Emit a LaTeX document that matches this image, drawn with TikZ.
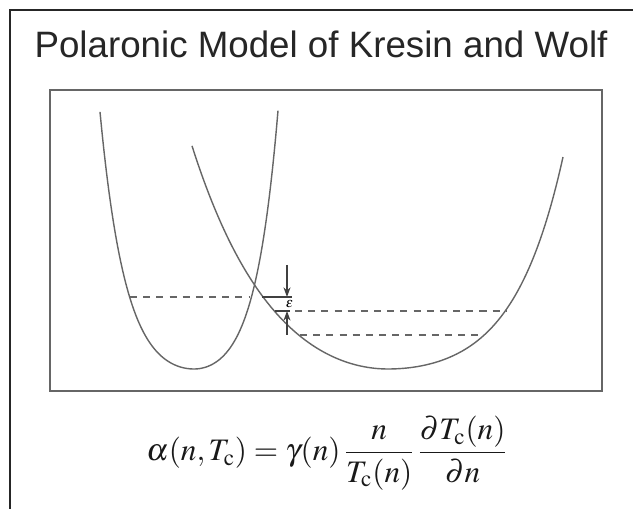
\documentclass[tikz,border=0pt]{standalone}
\usepackage{mathptmx}
\usepackage[no-math]{fontspec}
\newfontfamily\titlefont{Liberation Sans}
\usepackage{tikz}
\usetikzlibrary{arrows.meta, positioning}

\begin{document}
\begin{tikzpicture}[x=0.02cm, y=-0.02cm, >={Stealth[length=5.5pt, width=4pt]},
    curve/.style={draw=black!60, line width=0.8pt},
    level/.style={draw=black!60, line width=0.6pt, dash pattern=on 4pt off 3.5pt},
    mark line/.style={draw=black!75, line width=0.6pt}]

\clip (0,0) rectangle (633,509);
\fill[white] (0,0) rectangle (633,509);

% slide frame and plot box
\draw[black!85, line width=1.2pt] (10,520) -- (10,10) -- (650,10);
\draw[black!60, line width=1.1pt] (50,90) rectangle (602,391);

\node[anchor=base, text=black!85, font=\titlefont\fontsize{20.9}{24}\selectfont] (title) at (321,58) {Polaronic Model of Kresin and Wolf};

% two potential wells
\draw[curve] plot[smooth, samples=50, domain=100:194] (\x, {369-13.85*(cosh(0.039*(194-\x))-1)})
    -- plot[smooth, samples=50, domain=194:278] (\x, {369-13.85*(cosh(0.0437*(\x-194))-1)});
\draw[curve] plot[smooth, samples=60, domain=192:388] (\x, {369-61.3*(cosh(0.0113*(388-\x))-1)})
    -- plot[smooth, samples=60, domain=388:563] (\x, {369-13.6*(cosh(0.02*(\x-388))-1)});

% levels
\draw[level] (130,297) -- (250,297);
\draw[level] (295,311) -- (506,311);
\draw[level] (300,335) -- (484,335);

\coordinate (levelA) at (287,297);
\coordinate (levelB) at (287,311);
\coordinate (epsTop) at (287,265);
\coordinate (epsBot) at (287,335);
\draw[mark line] (262,297) -- (292,297);
\draw[mark line] (275,311) -- (290,311);
\draw[mark line, ->] (epsTop) -- (levelA);
\draw[mark line, ->] (epsBot) -- (levelB);
\node[font=\fontsize{8}{9}\selectfont, inner sep=0pt] (eps) at (289.5,304) {$\epsilon$};

\node[text=black!90, font=\fontsize{17.8}{21}\selectfont] (formula) at (327,453)
    {$\displaystyle \alpha(n,T_{\mathrm{c}}) = \gamma(n)\,\frac{n}{T_{\mathrm{c}}(n)}\,\frac{\partial T_{\mathrm{c}}(n)}{\partial n}$};

\end{tikzpicture}
\end{document}
